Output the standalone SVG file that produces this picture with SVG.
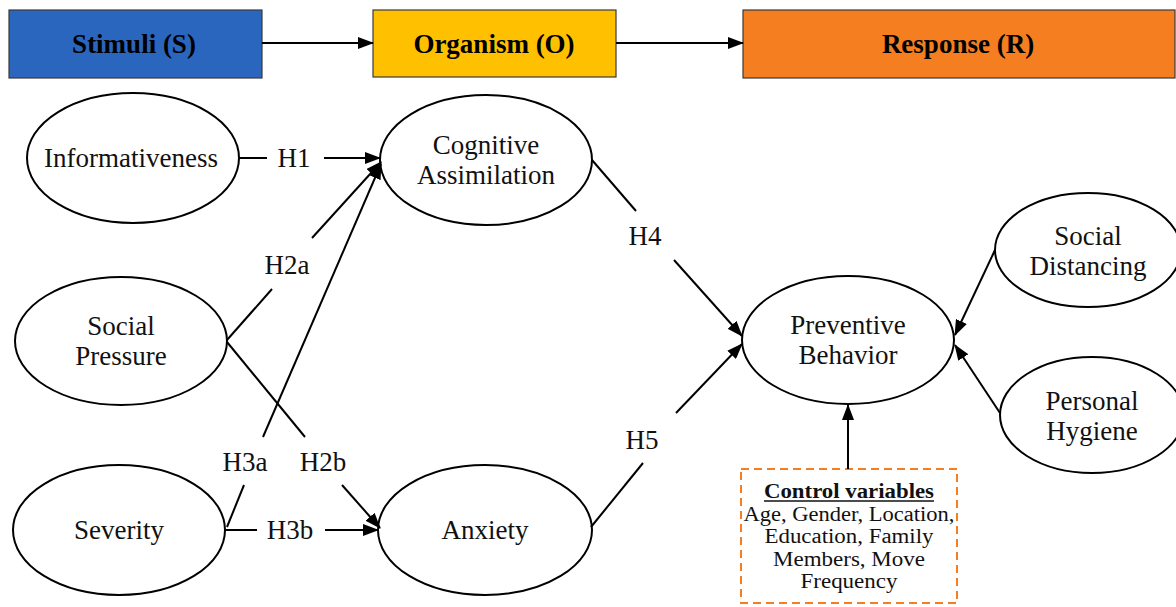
<svg xmlns="http://www.w3.org/2000/svg" width="1176" height="607" viewBox="0 0 1176 607">
<style>
.hdr{stroke:#3a3a3a;stroke-width:1.2}
.ht{font-family:"Liberation Serif",serif;font-weight:bold;font-size:27px;text-anchor:middle;fill:#000}
.el{fill:#fff;stroke:#000;stroke-width:2}
.t{font-family:"Liberation Serif",serif;font-size:27px;text-anchor:middle;fill:#111}
.lb{font-family:"Liberation Serif",serif;font-size:27px;text-anchor:middle;fill:#111}
.ln{stroke:#000;stroke-width:2;fill:none}
.ar{stroke:#000;stroke-width:2;fill:none;marker-end:url(#ah)}
.ct{font-family:"Liberation Serif",serif;font-size:20px;text-anchor:middle;fill:#111}
</style>
<defs>
<marker id="ah" markerUnits="userSpaceOnUse" markerWidth="16" markerHeight="12" refX="15" refY="6" orient="auto">
<path d="M0,0 L16,6 L0,12 Z" fill="#000"/>
</marker>
</defs>
<rect width="1176" height="607" fill="#fff"/>
<g id="stimuli">
<rect class="hdr" x="9" y="10" width="253" height="68" fill="#2a66bd"/>
<text class="ht" x="134" y="53">Stimuli (S)</text>
</g>
<g id="organism">
<rect class="hdr" x="373" y="10" width="243" height="67" fill="#ffc000"/>
<text class="ht" x="494" y="53">Organism (O)</text>
</g>
<g id="response">
<rect class="hdr" x="743" y="10" width="432" height="68" fill="#f47e20"/>
<text class="ht" x="958" y="53">Response (R)</text>
</g>
<g id="informativeness">
<ellipse class="el" cx="133" cy="158" rx="106" ry="65"/>
<text class="t" x="131" y="167">Informativeness</text>
</g>
<g id="social-pressure">
<ellipse class="el" cx="121" cy="341" rx="106" ry="64"/>
<text class="t" x="121" y="335">Social</text>
<text class="t" x="121" y="365">Pressure</text>
</g>
<g id="severity">
<ellipse class="el" cx="119" cy="530" rx="106" ry="65"/>
<text class="t" x="119" y="539">Severity</text>
</g>
<g id="cognitive-assimilation">
<ellipse class="el" cx="486" cy="160" rx="106" ry="65"/>
<text class="t" x="486" y="154">Cognitive</text>
<text class="t" x="486" y="184">Assimilation</text>
</g>
<g id="anxiety">
<ellipse class="el" cx="485" cy="530" rx="107" ry="65"/>
<text class="t" x="485" y="539">Anxiety</text>
</g>
<g id="preventive-behavior">
<ellipse class="el" cx="848" cy="340" rx="106" ry="64"/>
<text class="t" x="848" y="334">Preventive</text>
<text class="t" x="848" y="364">Behavior</text>
</g>
<g id="social-distancing">
<ellipse class="el" cx="1088" cy="250" rx="93" ry="57"/>
<text class="t" x="1088" y="245">Social</text>
<text class="t" x="1088" y="275">Distancing</text>
</g>
<g id="personal-hygiene">
<ellipse class="el" cx="1092" cy="415" rx="92" ry="58"/>
<text class="t" x="1092" y="410">Personal</text>
<text class="t" x="1092" y="440">Hygiene</text>
</g>
<g id="control-variables">
<rect x="741" y="469" width="216" height="134" fill="#fff" stroke="#f47e20" stroke-width="2" stroke-dasharray="8,5"/>
<text class="ct" x="849" y="498" font-weight="bold" textLength="170" lengthAdjust="spacingAndGlyphs">Control variables</text>
<line x1="764" y1="501" x2="934" y2="501" stroke="#111" stroke-width="1.5"/>
<text class="ct" x="849" y="520.5" textLength="211" lengthAdjust="spacingAndGlyphs">Age, Gender, Location,</text>
<text class="ct" x="849" y="543" textLength="169" lengthAdjust="spacingAndGlyphs">Education, Family</text>
<text class="ct" x="849" y="565.5" textLength="152" lengthAdjust="spacingAndGlyphs">Members, Move</text>
<text class="ct" x="849" y="588" textLength="97" lengthAdjust="spacingAndGlyphs">Frequency</text>
</g>
<g id="connectors">
<line class="ar" x1="262" y1="43" x2="373" y2="43"/>
<line class="ar" x1="616" y1="43" x2="743" y2="43"/>
<line class="ln" x1="239" y1="158" x2="267" y2="158"/>
<line class="ar" x1="324" y1="158" x2="380" y2="158"/>
<line class="ln" x1="227" y1="340" x2="272" y2="289"/>
<line class="ar" x1="312" y1="238" x2="381" y2="162"/>
<line class="ln" x1="227" y1="527" x2="244" y2="485"/>
<line class="ar" x1="263" y1="437" x2="381" y2="164"/>
<line class="ln" x1="227" y1="342" x2="305" y2="437"/>
<line class="ar" x1="342" y1="485" x2="380" y2="528"/>
<line class="ln" x1="225" y1="530" x2="257" y2="530"/>
<line class="ar" x1="325" y1="530" x2="378" y2="530"/>
<line class="ln" x1="592" y1="160" x2="636" y2="211"/>
<line class="ar" x1="674" y1="260" x2="742" y2="336"/>
<line class="ln" x1="591" y1="527" x2="643" y2="463"/>
<line class="ar" x1="676" y1="413" x2="742" y2="344"/>
<line class="ar" x1="848" y1="469" x2="848" y2="405"/>
<line class="ar" x1="995" y1="250" x2="955" y2="335"/>
<line class="ar" x1="1000" y1="413" x2="955" y2="345"/>
<text class="lb" x="294" y="167">H1</text>
<text class="lb" x="287" y="274">H2a</text>
<text class="lb" x="245" y="471">H3a</text>
<text class="lb" x="323" y="471">H2b</text>
<text class="lb" x="290" y="539">H3b</text>
<text class="lb" x="645" y="245">H4</text>
<text class="lb" x="642" y="449">H5</text>
</g>
</svg>
